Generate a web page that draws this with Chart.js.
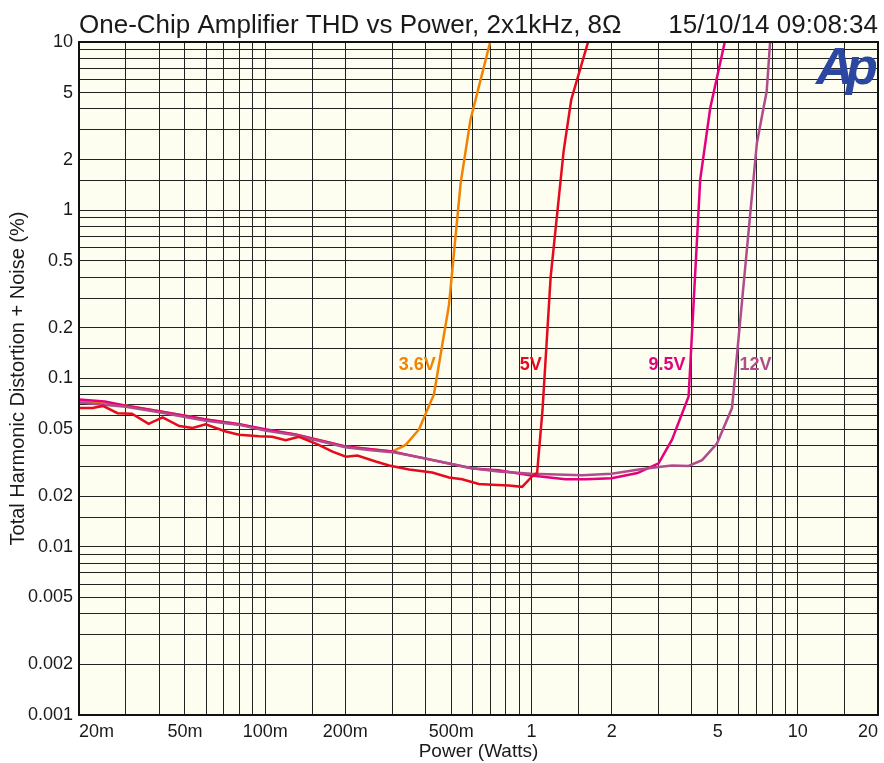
<!DOCTYPE html>
<html>
<head>
<meta charset="utf-8">
<title>One-Chip Amplifier THD vs Power</title>
<script src="https://cdn.jsdelivr.net/npm/chart.js@4.4.1/dist/chart.umd.min.js"></script>
<style>
  body { margin: 0; background: #fff; }
  #wrap { width: 884px; height: 763px; }
</style>
</head>
<body>
<div id="wrap"><canvas id="thdChart" width="884" height="763"></canvas></div>
<script>
// Power sweep (Watts) and THD+N (%) for each supply voltage
var power36 = [0.02, 0.03, 0.04, 0.05, 0.06, 0.08, 0.1, 0.13, 0.16, 0.2, 0.25, 0.3, 0.337, 0.378, 0.424, 0.43, 0.49, 0.542, 0.59, 0.702];
var thd36 = [0.073, 0.069, 0.064, 0.06, 0.057, 0.0535, 0.0495, 0.0465, 0.043, 0.0395, 0.038, 0.0368, 0.0403, 0.0498, 0.0764, 0.08, 0.274, 1.45, 3.45, 10.2];

var power5 = [0.02, 0.0225, 0.0246, 0.0279, 0.0316, 0.0365, 0.0412, 0.0476, 0.0534, 0.0598, 0.0711, 0.0798, 0.0948, 0.1064, 0.1194, 0.134, 0.159, 0.179, 0.201, 0.222, 0.26, 0.292, 0.347, 0.424, 0.49, 0.549, 0.634, 0.711, 0.822, 0.922, 1.005, 1.05, 1.1, 1.18, 1.32, 1.41, 1.64];
var thd5 = [0.0667, 0.0667, 0.0687, 0.0622, 0.0617, 0.0538, 0.0587, 0.0522, 0.0508, 0.0534, 0.0484, 0.0463, 0.0454, 0.045, 0.043, 0.045, 0.0403, 0.0368, 0.0343, 0.0348, 0.0321, 0.0304, 0.0288, 0.0276, 0.0258, 0.0252, 0.0236, 0.0234, 0.0231, 0.0227, 0.0262, 0.0275, 0.065, 0.40, 2.24, 4.54, 10.3];

var power95 = [0.02, 0.025, 0.03, 0.04, 0.05, 0.06, 0.08, 0.1, 0.13, 0.16, 0.2, 0.25, 0.3, 0.4, 0.5, 0.6, 0.75, 1.0, 1.34, 1.6, 2.0, 2.5, 3.0, 3.37, 3.89, 4.3, 4.69, 5.34];
var thd95 = [0.075, 0.073, 0.069, 0.064, 0.06, 0.057, 0.0535, 0.05, 0.0465, 0.043, 0.0395, 0.038, 0.0368, 0.0334, 0.031, 0.0292, 0.0285, 0.0265, 0.0252, 0.0252, 0.0255, 0.0274, 0.0313, 0.0433, 0.0782, 1.52, 4.05, 10.3];

var power12 = [0.02, 0.03, 0.04, 0.05, 0.06, 0.08, 0.1, 0.13, 0.16, 0.2, 0.25, 0.3, 0.4, 0.5, 0.6, 0.75, 1.0, 1.55, 2.0, 2.53, 3.0, 3.37, 3.89, 4.37, 4.97, 5.66, 7.02, 7.64, 7.88];
var thd12 = [0.072, 0.068, 0.063, 0.059, 0.056, 0.053, 0.049, 0.046, 0.0425, 0.039, 0.0375, 0.0365, 0.0335, 0.031, 0.0293, 0.028, 0.0272, 0.0266, 0.0272, 0.0288, 0.0298, 0.0304, 0.0302, 0.0327, 0.0411, 0.0667, 2.51, 5.09, 10.3];

var xTickValues = [0.02, 0.05, 0.1, 0.2, 0.5, 1, 2, 5, 10, 20];
var xTickText = ['20m', '50m', '100m', '200m', '500m', '1', '2', '5', '10', '20'];
var yTickValues = [10, 5, 2, 1, 0.5, 0.2, 0.1, 0.05, 0.02, 0.01, 0.005, 0.002, 0.001];
var yTickText = ['10', '5', '2', '1', '0.5', '0.2', '0.1', '0.05', '0.02', '0.01', '0.005', '0.002', '0.001'];

var seriesNames = ['3.6V', '5V', '9.5V', '12V'];

var FONT = '"Liberation Sans", Arial, Helvetica, sans-serif';

function toPoints(xs, ys) {
    var pts = [];
    for (var i = 0; i < xs.length; i++) {
        pts.push({ x: xs[i], y: ys[i] });
    }
    return pts;
}

// log ticks come out with float noise, so match with a tolerance
function findLabel(value, vals, texts) {
    for (var i = 0; i < vals.length; i++) {
        if (Math.abs(value - vals[i]) / vals[i] < 1e-6) return texts[i];
    }
    return '';
}

// where the curve names sit (right edge, in data units)
var nameAnchorX = [0.437, 1.093, 3.79, 7.96];
var nameAnchorY = 0.1206;
var nameColors = ['#f28300', '#e60a1e', '#e5007d', '#b04c8c'];

var decorPlugin = {
    id: 'decor',
    beforeDraw: function (chart) {
        var ctx = chart.ctx, a = chart.chartArea;
        ctx.save();
        ctx.fillStyle = '#ffffff';
        ctx.fillRect(0, 0, chart.width, chart.height);
        ctx.fillStyle = '#fdfdf0';
        ctx.fillRect(a.left, a.top, a.right - a.left, a.bottom - a.top);
        ctx.restore();
    },
    beforeDatasetsDraw: function (chart) {
        var ctx = chart.ctx, a = chart.chartArea;
        ctx.save();
        // Ap logo
        ctx.fillStyle = '#2c47a2';
        ctx.font = 'italic bold 52px ' + FONT;
        ctx.textBaseline = 'alphabetic';
        ctx.textAlign = 'left';
        ctx.fillText('A', a.right - 62, 84);
        ctx.fillText('p', a.right - 32, 84);
        ctx.restore();
    },
    afterDraw: function (chart) {
        var ctx = chart.ctx, a = chart.chartArea;
        var xs = chart.scales.x, ys = chart.scales.y;
        ctx.save();
        ctx.strokeStyle = '#111';
        ctx.lineWidth = 2;
        ctx.strokeRect(a.left, a.top, a.right - a.left, a.bottom - a.top);

        ctx.fillStyle = '#1a1a1a';
        ctx.font = '26px ' + FONT;
        ctx.textBaseline = 'alphabetic';
        ctx.textAlign = 'left';
        ctx.fillText('One-Chip Amplifier THD vs Power, 2x1kHz, 8\u03A9', a.left, 33);
        ctx.textAlign = 'right';
        ctx.fillText('15/10/14 09:08:34', a.right, 33);

        ctx.font = 'bold 18px ' + FONT;
        ctx.textBaseline = 'middle';
        ctx.textAlign = 'right';
        for (var i = 0; i < seriesNames.length; i++) {
            ctx.fillStyle = nameColors[i];
            ctx.fillText(seriesNames[i], xs.getPixelForValue(nameAnchorX[i]), ys.getPixelForValue(nameAnchorY));
        }
        ctx.restore();
    }
};

function lineSet(label, pts, color, order) {
    return {
        label: label,
        data: pts,
        borderColor: color,
        backgroundColor: color,
        borderWidth: 2.5,
        pointRadius: 0,
        tension: 0,
        fill: false,
        order: order
    };
}

document.addEventListener('DOMContentLoaded', function () {
    var ctx = document.getElementById('thdChart').getContext('2d');
    var thdChart = new Chart(ctx, {
        type: 'line',
        data: {
            datasets: [
                lineSet(seriesNames[0], toPoints(power36, thd36), nameColors[0], 3),
                lineSet(seriesNames[1], toPoints(power5, thd5), nameColors[1], 0),
                lineSet(seriesNames[2], toPoints(power95, thd95), nameColors[2], 2),
                lineSet(seriesNames[3], toPoints(power12, thd12), nameColors[3], 1)
            ]
        },
        options: {
            responsive: false,
            animation: false,
            maintainAspectRatio: false,
            layout: { padding: { top: 42, right: 4, left: 0, bottom: 0 } },
            plugins: {
                legend: { display: false },
                tooltip: { enabled: false }
            },
            scales: {
                x: {
                    type: 'logarithmic',
                    min: 0.02,
                    max: 20,
                    afterFit: function (scale) { scale.height = 48; },
                    grid: { color: '#222', lineWidth: 1, drawTicks: false },
                    border: { display: false },
                    ticks: {
                        autoSkip: false,
                        maxRotation: 0,
                        minRotation: 0,
                        align: 'inner',
                        padding: 6,
                        color: '#1a1a1a',
                        font: { family: FONT, size: 18 },
                        callback: function (value) { return findLabel(value, xTickValues, xTickText); }
                    },
                    title: {
                        display: true,
                        text: 'Power (Watts)',
                        color: '#1a1a1a',
                        font: { family: FONT, size: 19 },
                        padding: { top: 0, bottom: 0 }
                    }
                },
                y: {
                    type: 'logarithmic',
                    min: 0.001,
                    max: 10,
                    afterFit: function (scale) { scale.width = 79; },
                    grid: { color: '#222', lineWidth: 1, drawTicks: false },
                    border: { display: false },
                    ticks: {
                        autoSkip: false,
                        padding: 6,
                        color: '#1a1a1a',
                        font: { family: FONT, size: 18 },
                        callback: function (value) { return findLabel(value, yTickValues, yTickText); }
                    },
                    title: {
                        display: true,
                        text: 'Total Harmonic Distortion + Noise (%)',
                        color: '#1a1a1a',
                        font: { family: FONT, size: 20 },
                        padding: { top: 6, bottom: 0 }
                    }
                }
            }
        },
        plugins: [decorPlugin]
    });
});
</script>
</body>
</html>
